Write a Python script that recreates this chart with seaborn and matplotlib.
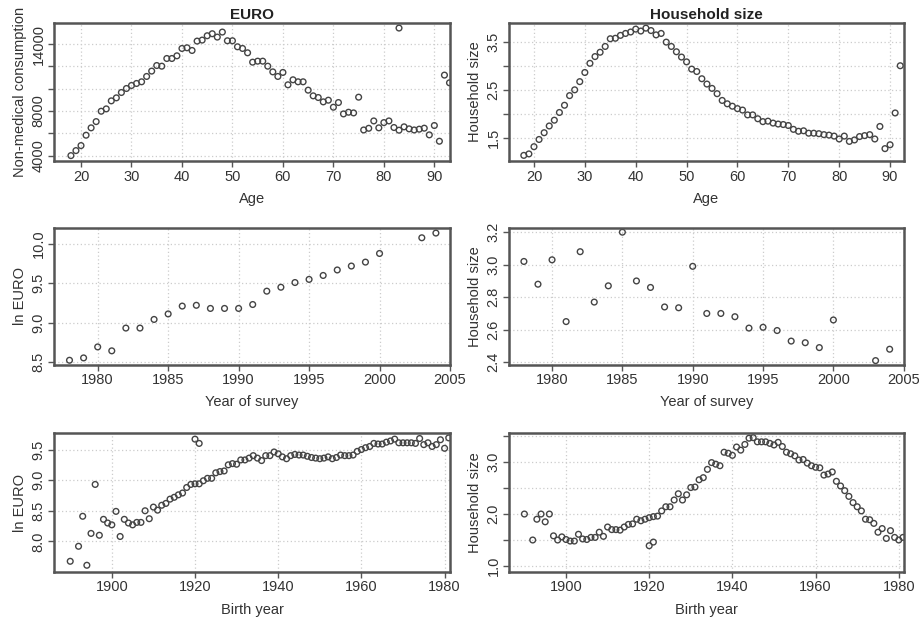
import matplotlib
matplotlib.use("Agg")
import matplotlib.pyplot as plt
import seaborn as sns

# ---------------- data ----------------
age_euro = [18, 19, 20, 21, 22, 23, 24, 25, 26, 27, 28, 29, 30, 31, 32, 33, 34, 35, 36, 37,
            38, 39, 40, 41, 42, 43, 44, 45, 46, 47, 48, 49, 50, 51, 52, 53, 54, 55, 56, 57,
            58, 59, 60, 61, 62, 63, 64, 65, 66, 67, 68, 69, 70, 71, 72, 73, 74, 75, 76, 77,
            78, 79, 80, 81, 82, 83, 84, 85, 86, 87, 88, 89, 90, 91, 92, 93, 83]
consumption = [4000, 4450, 4900, 5830, 6490, 7050, 7980, 8190, 8910, 9180,
               9660, 10020, 10290, 10470, 10620, 11100, 11580, 12080, 12020, 12710,
               12710, 12950, 13610, 13670, 13430, 14270, 14360, 14750, 14930, 14630,
               15080, 14300, 14300, 13760, 13610, 13220, 12380, 12470, 12470, 12020,
               11510, 11100, 11460, 10350, 10800, 10620, 10620, 9870, 9360, 9210,
               8820, 8970, 8340, 8760, 7740, 7890, 7830, 9240, 6300, 6450,
               7110, 6490, 6960, 7110, 6520, 6280, 6580, 6400, 6300, 6370,
               6460, 5860, 6700, 5290, 11220, 10530, 15440]

age_hh = [18, 19, 20, 21, 22, 23, 24, 25, 26, 27, 28, 29, 30, 31, 32, 33, 34, 35, 36, 37,
          38, 39, 40, 41, 42, 43, 44, 45, 46, 47, 48, 49, 50, 51, 52, 53, 54, 55, 56, 57,
          58, 59, 60, 61, 62, 63, 64, 65, 66, 67, 68, 69, 70, 71, 72, 73, 74, 75, 76, 77,
          78, 79, 80, 81, 82, 83, 84, 85, 86, 87, 88, 89, 90, 91, 92]
hh_by_age = [1.14, 1.17, 1.32, 1.47, 1.61, 1.75, 1.87, 2.03, 2.18, 2.38,
             2.50, 2.67, 2.86, 3.05, 3.19, 3.28, 3.40, 3.56, 3.57, 3.63,
             3.67, 3.70, 3.76, 3.72, 3.78, 3.73, 3.64, 3.67, 3.49, 3.40,
             3.29, 3.18, 3.08, 2.93, 2.88, 2.73, 2.62, 2.53, 2.42, 2.28,
             2.21, 2.16, 2.11, 2.08, 1.98, 1.98, 1.90, 1.84, 1.85, 1.81,
             1.79, 1.78, 1.76, 1.68, 1.64, 1.65, 1.60, 1.60, 1.59, 1.57,
             1.56, 1.54, 1.48, 1.54, 1.43, 1.46, 1.53, 1.55, 1.57, 1.48,
             1.74, 1.28, 1.36, 2.02, 3.00]

survey_year = [1978, 1979, 1980, 1981, 1982, 1983, 1984, 1985, 1986, 1987, 1988, 1989,
               1990, 1991, 1992, 1993, 1994, 1995, 1996, 1997, 1998, 1999, 2000, 2003, 2004]
ln_euro_by_year = [8.52, 8.55, 8.69, 8.64, 8.93, 8.93, 9.04, 9.11, 9.21, 9.22, 9.18, 9.18,
                   9.18, 9.23, 9.40, 9.45, 9.51, 9.55, 9.60, 9.67, 9.72, 9.77, 9.88, 10.08, 10.14]
hh_by_year = [3.02, 2.88, 3.03, 2.65, 3.08, 2.77, 2.87, 3.20, 2.90, 2.86, 2.74, 2.735,
              2.99, 2.70, 2.70, 2.68, 2.61, 2.615, 2.595, 2.53, 2.52, 2.49, 2.66, 2.41, 2.48]

birth_year = [1890, 1892, 1893, 1894, 1895, 1896, 1897, 1898, 1899, 1900, 1901,
              1902, 1903, 1904, 1905, 1906, 1907, 1908, 1909, 1910, 1911,
              1912, 1913, 1914, 1915, 1916, 1917, 1918, 1919, 1920, 1921,
              1922, 1923, 1924, 1925, 1926, 1927, 1928, 1929, 1930, 1931,
              1932, 1933, 1934, 1935, 1936, 1937, 1938, 1939, 1940, 1941,
              1942, 1943, 1944, 1945, 1946, 1947, 1948, 1949, 1950, 1951,
              1952, 1953, 1954, 1955, 1956, 1957, 1958, 1959, 1960, 1961,
              1962, 1963, 1964, 1965, 1966, 1967, 1968, 1969, 1970, 1971,
              1972, 1973, 1974, 1975, 1976, 1977, 1978, 1979, 1980, 1981,
              1920, 1921]
ln_euro_by_birth = [7.675, 7.92, 8.41, 7.61, 8.13, 8.93, 8.10, 8.36, 8.30, 8.27, 8.49,
                    8.08, 8.36, 8.30, 8.27, 8.31, 8.31, 8.50, 8.37, 8.56, 8.51,
                    8.59, 8.62, 8.69, 8.72, 8.76, 8.79, 8.88, 8.93, 8.94, 8.94,
                    8.99, 9.03, 9.03, 9.12, 9.14, 9.15, 9.25, 9.27, 9.26, 9.33,
                    9.33, 9.36, 9.40, 9.36, 9.32, 9.40, 9.40, 9.46, 9.43, 9.38,
                    9.35, 9.40, 9.42, 9.41, 9.41, 9.39, 9.37, 9.36, 9.35, 9.36,
                    9.38, 9.35, 9.37, 9.41, 9.40, 9.40, 9.41, 9.47, 9.50, 9.53,
                    9.55, 9.60, 9.59, 9.59, 9.62, 9.64, 9.67, 9.61, 9.61, 9.61,
                    9.61, 9.60, 9.68, 9.58, 9.61, 9.55, 9.58, 9.66, 9.52, 9.69,
                    9.67, 9.60]
hh_by_birth = [2.00, 1.50, 1.90, 2.00, 1.85, 2.00, 1.58, 1.50, 1.56, 1.51, 1.48,
               1.48, 1.61, 1.52, 1.51, 1.55, 1.55, 1.65, 1.57, 1.75, 1.70,
               1.70, 1.69, 1.75, 1.80, 1.81, 1.90, 1.87, 1.90, 1.93, 1.95,
               1.96, 2.06, 2.14, 2.14, 2.27, 2.39, 2.27, 2.37, 2.51, 2.52,
               2.66, 2.70, 2.86, 2.99, 2.96, 2.93, 3.19, 3.17, 3.13, 3.29,
               3.23, 3.34, 3.46, 3.47, 3.39, 3.39, 3.39, 3.36, 3.33, 3.38,
               3.30, 3.19, 3.16, 3.12, 3.04, 3.05, 2.98, 2.93, 2.90, 2.89,
               2.75, 2.77, 2.81, 2.63, 2.54, 2.45, 2.34, 2.22, 2.14, 2.06,
               1.90, 1.89, 1.82, 1.65, 1.72, 1.53, 1.68, 1.55, 1.50, 1.55,
               1.39, 1.46]

# ---------------- style ----------------
sns.set_theme(style="white")
plt.rcParams["font.family"] = ["Liberation Sans", "DejaVu Sans"]

W, H = 920, 617
fig = plt.figure(figsize=(W / 100, H / 100), dpi=100)
fig.patch.set_facecolor("white")

cols = [(54, 450), (509, 904)]
rows = [(22.7, 161.3), (227.8, 364.5), (433.0, 572.0)]


def make_ax(r, c):
    x0, x1 = cols[c]
    y0, y1 = rows[r]
    return fig.add_axes([x0 / W, 1 - y1 / H, (x1 - x0) / W, (y1 - y0) / H])


TXT = "#333333"
EDGE = "#444444"


def style(ax, xlim, ylim, xticks, yticks, ylabels, xlabel, ylabel):
    ax.set_xlim(*xlim)
    ax.set_ylim(*ylim)
    ax.set_xticks(xticks)
    ax.set_xticklabels([str(t) for t in xticks])
    ax.set_yticks(yticks)
    ax.set_yticklabels(ylabels, rotation=90, va="center")
    ax.grid(True, color="#cccccc", linestyle=(0, (1, 2)), linewidth=0.9)
    ax.set_axisbelow(True)
    for s in ax.spines.values():
        s.set_color("#555555")
        s.set_linewidth(1.8)
        s.set_visible(True)
    ax.tick_params(direction="out", length=4, width=1, color="#555555",
                   labelsize=10.5, labelcolor=TXT, pad=2, bottom=True, left=True)
    ax.set_xlabel(xlabel, fontsize=10.5, color=TXT, labelpad=6)
    ax.set_ylabel(ylabel, fontsize=10.5, color=TXT, labelpad=3)


def pts(ax, x, y):
    sns.scatterplot(x=x, y=y, ax=ax, marker="o", s=17, facecolors="none",
                    edgecolors=EDGE, linewidth=1.0, legend=False, clip_on=True)


# Panel 1
ax = make_ax(0, 0)
pts(ax, age_euro, consumption)
style(ax, (14.65, 93.1), (3490, 15920), [20, 30, 40, 50, 60, 70, 80, 90],
      [4000, 6000, 8000, 10000, 12000, 14000],
      ["4000", "", "8000", "", "", "14000"], "Age", "Non-medical consumption")
ax.set_title("EURO", fontweight="bold", fontsize=11, color="#222222", pad=3)

# Panel 2
ax = make_ax(0, 1)
pts(ax, age_hh, hh_by_age)
style(ax, (15.09, 92.74), (1.017, 3.893), [20, 30, 40, 50, 60, 70, 80, 90],
      [1.5, 2.0, 2.5, 3.0, 3.5], ["1.5", "", "2.5", "", "3.5"], "Age", "Household size")
ax.set_title("Household size", fontweight="bold", fontsize=11, color="#222222", pad=3)

# Panel 3
ax = make_ax(1, 0)
pts(ax, survey_year, ln_euro_by_year)
style(ax, (1976.9, 2005.0), (8.466, 10.207), [1980, 1985, 1990, 1995, 2000, 2005],
      [8.5, 9.0, 9.5, 10.0], ["8.5", "9.0", "9.5", "10.0"], "Year of survey", "ln EURO")

# Panel 4
ax = make_ax(1, 1)
pts(ax, survey_year, hh_by_year)
style(ax, (1976.94, 2005.02), (2.386, 3.227), [1980, 1985, 1990, 1995, 2000, 2005],
      [2.4, 2.6, 2.8, 3.0, 3.2], ["2.4", "2.6", "2.8", "3.0", "3.2"],
      "Year of survey", "Household size")

# Panel 5
ax = make_ax(2, 0)
pts(ax, birth_year, ln_euro_by_birth)
style(ax, (1886.1, 1981.3), (7.50, 9.77), [1900, 1920, 1940, 1960, 1980],
      [8.0, 8.5, 9.0, 9.5], ["8.0", "8.5", "9.0", "9.5"], "Birth year", "ln EURO")

# Panel 6
ax = make_ax(2, 1)
pts(ax, birth_year, hh_by_birth)
style(ax, (1886.3, 1981.25), (0.884, 3.56), [1900, 1920, 1940, 1960, 1980],
      [1.0, 1.5, 2.0, 2.5, 3.0, 3.5], ["1.0", "", "2.0", "", "3.0", ""],
      "Birth year", "Household size")

fig.savefig("out.png", dpi=100, facecolor="white")
